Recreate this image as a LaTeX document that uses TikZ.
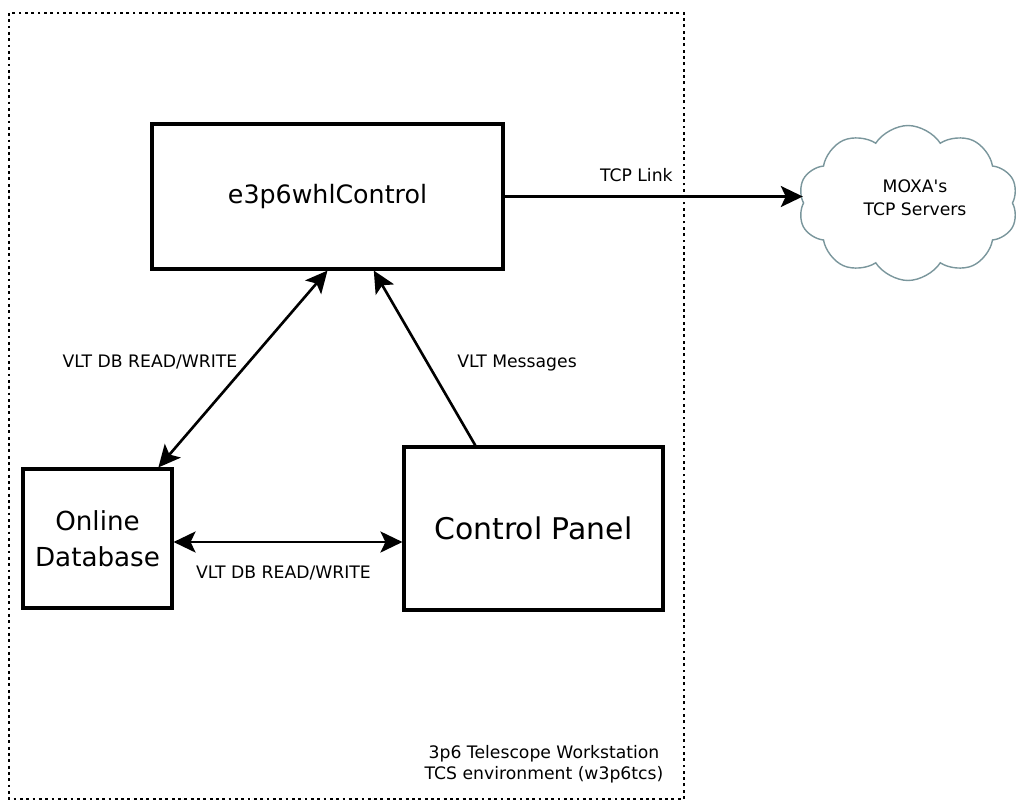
\documentclass[tikz,border=0pt]{standalone}
\usepackage{fontspec}
\setmainfont{DejaVu Sans}
\usetikzlibrary{arrows.meta,shapes.symbols}

\definecolor{cloudline}{RGB}{122,150,156}

\begin{document}
\begin{tikzpicture}[x=0.02cm,y=-0.02cm,
  box/.style={draw,line width=1.8pt,inner sep=0pt,align=center},
  lbl/.style={font=\fontsize{9.8}{12}\selectfont,inner sep=0pt,align=center},
  link/.style={line width=1.5pt,-{Stealth[length=0.44cm,width=0.42cm,inset=0.1cm]}},
  dlink/.style={line width=1.5pt,{Stealth[length=0.44cm,width=0.42cm,inset=0.1cm]}-{Stealth[length=0.44cm,width=0.42cm,inset=0.1cm]}}]
\useasboundingbox (0,0) rectangle (1016,801);

% workstation boundary
\draw[line width=1.6pt,dash pattern=on 1.6pt off 2pt] (9,13) rectangle (684,799);
\node[lbl] (ws) at (544,764.5) {3p6 Telescope Workstation\\TCS environment (w3p6tcs)};

% blocks
\node[box,minimum width=7.02cm,minimum height=2.9cm,font=\fontsize{14.4}{16}\selectfont] (ctrl) at (327.5,196.5) {e3p6whlControl};
\node[box,minimum width=2.98cm,minimum height=2.78cm,font=\fontsize{14.9}{20.5}\selectfont] (db) at (97.5,538.5) {Online\\Database};
\node[box,minimum width=5.18cm,minimum height=3.26cm,font=\fontsize{17}{18}\selectfont] (panel) at (533.5,528.5) {Control Panel};

% outside servers
\node[cloud,draw=cloudline,line width=0.8pt,cloud puffs=10,cloud puff arc=115,aspect=1.45,
  minimum width=4.4cm,minimum height=3.1cm] (moxa) at (908,203) {};
\node[lbl,font=\fontsize{9.8}{13}\selectfont] (moxatxt) at (915,198) {MOXA\textquotesingle s\\TCP Servers};

% links
\draw[link] (ctrl.east) -- (ctrl.east -| moxa.west);
\node[lbl,anchor=east] (tcp) at (673,175) {TCP Link};

\draw[dlink] (db) -- (ctrl.south);
\node[lbl] (rwtop) at (150,362) {VLT DB READ/WRITE};

\draw[link] (panel.125) -- (ctrl.302);
\node[lbl] (msg) at (517,363) {VLT Messages};

\draw[dlink] ([yshift=-0.07cm]db.east) -- ([yshift=-0.07cm]db.east -| panel.west);
\node[lbl] (rwlow) at (283.5,573) {VLT DB READ/WRITE};
\end{tikzpicture}
\end{document}
